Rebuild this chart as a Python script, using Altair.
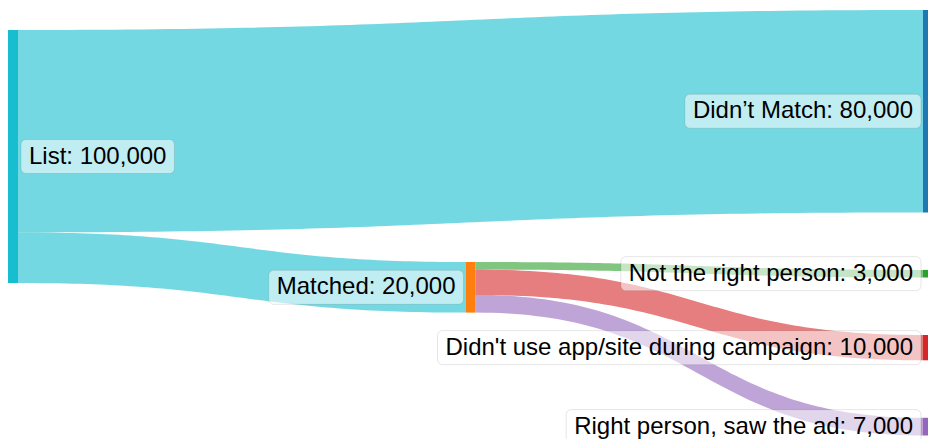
import altair as alt
import pandas as pd
import numpy as np

# ---------------- data ----------------
nodes = ["List", "Didn’t Match", "Matched", "Not the right person",
         "Didn't use app/site during campaign", "Right person, saw the ad"]
node_values = [100000, 80000, 20000, 3000, 10000, 7000]
node_columns = [0, 2, 1, 2, 2, 2]
node_colors = ["#17becf", "#1f77b4", "#ff7f0e", "#2ca02c", "#d62728", "#9467bd"]

link_sources = [0, 0, 2, 2, 2]
link_targets = [1, 2, 3, 4, 5]
link_values = [80000, 20000, 3000, 10000, 7000]
link_colors = ["#17becf", "#17becf", "#2ca02c", "#d62728", "#9467bd"]

# ---------------- layout (pixels) ----------------
W, H = 928, 439
NODE_W = 10
LEFT = 8
RIGHT = 933            # right column extends slightly past the view
KY = 2.53 / 1000       # px per person
GAP = 57.5             # vertical gap between nodes in the last column
TOP = 10
LIST_TOP = 30
MATCHED_TOP = 262
FONT = 24
PAD = 8

ncol = max(node_columns) + 1
step = (RIGHT - LEFT - NODE_W) / (ncol - 1)
nx0 = [LEFT + c * step for c in node_columns]
nx1 = [x + NODE_W for x in nx0]
nh = [v * KY for v in node_values]

ny0 = [0.0] * len(nodes)
cur = TOP
for i, c in enumerate(node_columns):
    if c == ncol - 1:
        ny0[i] = cur
        cur += nh[i] + GAP
ny0[0] = LIST_TOP
ny0[2] = MATCHED_TOP
ny1 = [a + b for a, b in zip(ny0, nh)]

# links
src_off = [0.0] * len(nodes)
tgt_off = [0.0] * len(nodes)
rows = []
for k, (s, t, v) in enumerate(zip(link_sources, link_targets, link_values)):
    w = v * KY
    ys0 = ny0[s] + src_off[s] + w / 2
    yt0 = ny0[t] + tgt_off[t] + w / 2
    src_off[s] += w
    tgt_off[t] += w
    xa, xb = nx1[s], nx0[t]
    xm = (xa + xb) / 2
    for p in np.linspace(0, 1, 80):
        x = (1 - p) ** 3 * xa + 3 * (1 - p) ** 2 * p * xm + 3 * (1 - p) * p ** 2 * xm + p ** 3 * xb
        yc = ys0 + (yt0 - ys0) * (3 * p ** 2 - 2 * p ** 3)
        rows.append({"link": f"{nodes[s]} → {nodes[t]}", "x": x,
                     "top": yc - w / 2, "bot": yc + w / 2, "color": link_colors[k]})
link_df = pd.DataFrame(rows)

node_df = pd.DataFrame({"name": nodes, "x0": nx0, "x1": [min(x, W) for x in nx1],
                        "y0": ny0, "y1": ny1, "color": node_colors})

# label boxes (text width from Arial/Liberation Sans metrics)
WID = {"L": 556, "i": 222, "s": 500, "t": 278, ":": 278, " ": 278, ",": 278,
       "D": 722, "d": 556, "n": 556, "’": 222, "'": 191, "M": 833, "a": 556,
       "c": 500, "h": 556, "N": 722, "o": 556, "e": 556, "r": 333, "g": 556,
       "p": 556, "u": 556, "/": 278, "m": 833, "R": 722, "w": 722, "y": 500}


def text_w(s):
    return sum(WID.get(ch, 556) for ch in s) / 1000 * FONT


labels = [f"{n}: {v:,}" for n, v in zip(nodes, node_values)]
bx0, bx1, cy = [], [], []
for i, lab in enumerate(labels):
    tw = text_w(lab) + 2 * PAD
    if node_columns[i] == 0:
        a = nx1[i] + 3
        b = a + tw
    else:
        b = nx0[i] - 2
        a = b - tw
    bx0.append(a)
    bx1.append(b)
    cy.append((ny0[i] + ny1[i]) / 2)
lab_df = pd.DataFrame({"label": labels, "bx0": bx0, "bx1": bx1,
                       "by0": [c - 17 for c in cy], "by1": [c + 17 for c in cy],
                       "cx": [(a + b) / 2 for a, b in zip(bx0, bx1)], "cy": cy})

xs = alt.Scale(domain=[0, W], range=[0, W], nice=False, zero=False)
ys = alt.Scale(domain=[0, H], range=[0, H], nice=False, zero=False)

links = alt.Chart(link_df).mark_area(opacity=0.6, clip=True).encode(
    x=alt.X("x:Q", scale=xs, axis=None),
    y=alt.Y("top:Q", scale=ys, axis=None, stack=None),
    y2="bot:Q",
    color=alt.Color("color:N", scale=None),
    detail="link:N",
)

node_layer = alt.Chart(node_df).mark_rect(clip=True).encode(
    x=alt.X("x0:Q", scale=xs, axis=None), x2="x1:Q",
    y=alt.Y("y0:Q", scale=ys, axis=None), y2="y1:Q",
    color=alt.Color("color:N", scale=None),
)

boxes = alt.Chart(lab_df).mark_rect(
    fill="white", fillOpacity=0.55, stroke="black", strokeOpacity=0.1,
    strokeWidth=1, cornerRadius=5, clip=True
).encode(
    x=alt.X("bx0:Q", scale=xs, axis=None), x2="bx1:Q",
    y=alt.Y("by0:Q", scale=ys, axis=None), y2="by1:Q",
)

texts = alt.Chart(lab_df).mark_text(
    font="Liberation Sans", fontSize=FONT, color="black",
    align="center", baseline="middle", clip=True
).encode(
    x=alt.X("cx:Q", scale=xs, axis=None),
    y=alt.Y("cy:Q", scale=ys, axis=None),
    text="label:N",
)

chart = alt.layer(links, node_layer, boxes, texts).properties(
    width=W, height=H, padding=0, autosize="none"
).configure_view(stroke=None)

chart.save("out.html", embed_options={"renderer": "svg", "actions": False})
